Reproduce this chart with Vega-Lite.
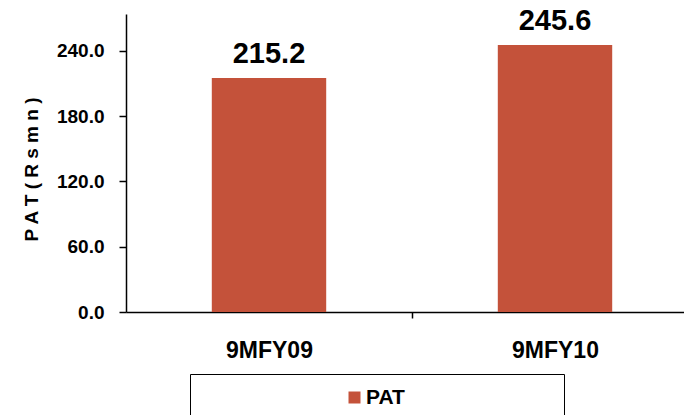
{
  "$schema": "https://vega.github.io/schema/vega-lite/v6.json",
  "width": 558,
  "height": 298,
  "autosize": {"type": "none"},
  "padding": {"left": 126, "top": 14, "right": 0, "bottom": 103},
  "background": "white",
  "config": {"view": {"stroke": null}},
  "data": {
    "values": [
      {"period": "9MFY09", "series": "PAT", "value": 215.2},
      {"period": "9MFY10", "series": "PAT", "value": 245.6}
    ]
  },
  "layer": [
    {
      "mark": {"type": "bar"},
      "encoding": {
        "x": {
          "field": "period",
          "type": "nominal",
          "sort": null,
          "scale": {"range": [0, 572], "paddingInner": 0.6, "paddingOuter": 0.3},
          "axis": {
            "title": null,
            "labelAngle": 0,
            "labelFont": "Liberation Sans",
            "labelFontWeight": "bold",
            "labelFontSize": 23,
            "labelColor": "black",
            "labelBaseline": "top",
            "labelPadding": 21,
            "tickSize": 6,
            "tickOffset": 143,
            "labelOffset": -143,
            "tickColor": "black",
            "tickWidth": 1.5,
            "domainColor": "black",
            "domainWidth": 1.5
          }
        },
        "y": {
          "field": "value",
          "type": "quantitative",
          "scale": {"domain": [0, 274], "nice": false},
          "axis": {
            "values": [0, 60, 120, 180, 240],
            "format": ".1f",
            "grid": false,
            "labelFont": "Liberation Sans",
            "labelFontWeight": "bold",
            "labelFontSize": 19,
            "labelColor": "black",
            "labelPadding": 15,
            "tickSize": 7,
            "tickColor": "black",
            "tickWidth": 1.5,
            "domainColor": "black",
            "domainWidth": 1.5,
            "title": "P A T  ( R s  m n )",
            "titleFont": "Liberation Sans",
            "titleFontWeight": "bold",
            "titleFontSize": 19,
            "titleColor": "black",
            "titleAngle": -90,
            "titleX": -95,
            "titleY": 155,
            "titleAlign": "center",
            "titleBaseline": "middle"
          }
        },
        "color": {
          "field": "series",
          "type": "nominal",
          "scale": {"range": ["#C4523A"]},
          "legend": {
            "orient": "none",
            "legendX": 64,
            "legendY": 360,
            "title": null,
            "padding": 13,
            "strokeColor": "black",
            "fillColor": "white",
            "symbolType": "square",
            "symbolSize": 144,
            "symbolOffset": 141,
            "symbolStrokeWidth": 0,
            "labelFont": "Liberation Sans",
            "labelFontWeight": "bold",
            "labelFontSize": 21,
            "labelColor": "black",
            "labelOffset": 1,
            "labelLimit": 400,
            "labelExpr": "datum.label + '\u00a0\u00a0\u00a0\u00a0\u00a0\u00a0\u00a0\u00a0\u00a0\u00a0\u00a0\u00a0\u00a0\u00a0\u00a0\u00a0\u00a0\u00a0\u00a0\u00a0\u00a0\u00a0\u00a0\u00a0\u00a0\u200b'"
          }
        }
      }
    },
    {
      "mark": {
        "type": "text",
        "dy": -15,
        "baseline": "alphabetic",
        "font": "Liberation Sans",
        "fontWeight": "bold",
        "fontSize": 29,
        "color": "black"
      },
      "encoding": {
        "x": {"field": "period", "type": "nominal", "sort": null},
        "y": {"field": "value", "type": "quantitative"},
        "text": {"field": "value", "type": "quantitative", "format": ".1f"}
      }
    }
  ]
}
